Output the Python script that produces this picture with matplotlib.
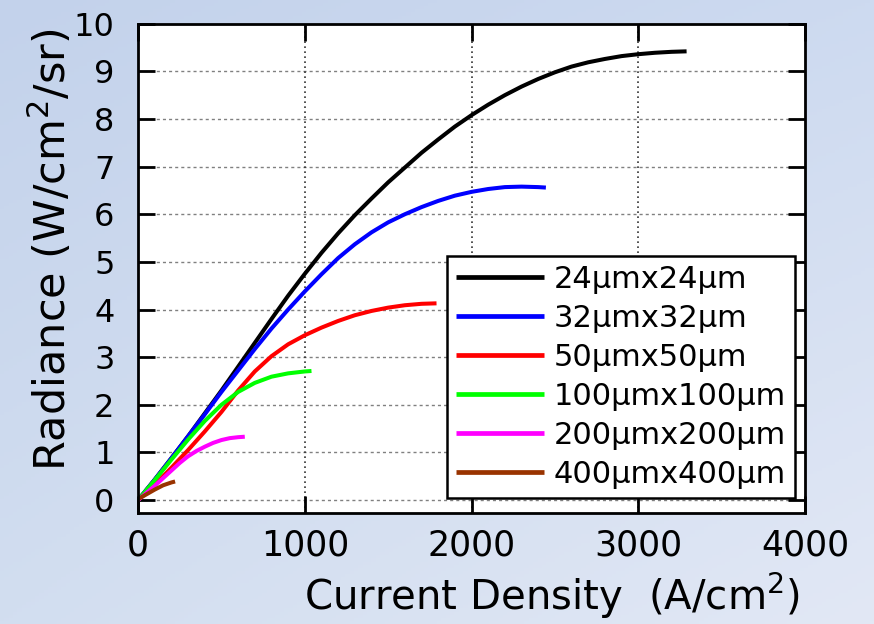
import numpy as np
import matplotlib.pyplot as plt

# Radiance vs current density for different pixel sizes
labels = ["24μmx24μm", "32μmx32μm", "50μmx50μm",
          "100μmx100μm", "200μmx200μm", "400μmx400μm"]
colors = ["#000000", "#0000ff", "#ff0000", "#00ff00", "#ff00ff", "#993300"]

j_24 = [0, 100, 200, 300, 400, 500, 600, 700, 800, 900, 1000, 1100, 1200,
        1300, 1400, 1500, 1600, 1700, 1800, 1900, 2000, 2100, 2200, 2300,
        2400, 2500, 2600, 2700, 2800, 2900, 3000, 3100, 3200, 3290]
r_24 = [0, 0.43, 0.88, 1.34, 1.82, 2.3, 2.8, 3.3, 3.8, 4.29, 4.75, 5.19, 5.6,
        5.98, 6.33, 6.67, 6.98, 7.29, 7.57, 7.84, 8.08, 8.3, 8.5, 8.68,
        8.84, 8.98, 9.1, 9.19, 9.26, 9.32, 9.36, 9.39, 9.41, 9.42]

j_32 = [0, 100, 200, 300, 400, 500, 600, 700, 800, 900, 1000, 1100, 1200,
        1300, 1400, 1500, 1600, 1700, 1800, 1900, 2000, 2100, 2200, 2300,
        2400, 2446]
r_32 = [0, 0.43, 0.88, 1.34, 1.8, 2.27, 2.72, 3.17, 3.6, 4.0, 4.38, 4.74, 5.08,
        5.37, 5.62, 5.83, 6.0, 6.15, 6.28, 6.39, 6.47, 6.53, 6.57, 6.58,
        6.57, 6.56]

j_50 = [0, 100, 200, 300, 400, 500, 600, 700, 800, 900, 1000, 1100, 1200,
        1300, 1400, 1500, 1600, 1700, 1790]
r_50 = [0, 0.32, 0.68, 1.05, 1.44, 1.85, 2.3, 2.7, 3.02, 3.27, 3.46, 3.62, 3.76,
        3.88, 3.97, 4.04, 4.09, 4.12, 4.13]

j_100 = [0, 100, 200, 300, 400, 500, 600, 700, 800, 900, 1000, 1040]
r_100 = [0, 0.42, 0.85, 1.27, 1.66, 2.0, 2.27, 2.46, 2.59, 2.66, 2.7, 2.71]

j_200 = [0, 100, 200, 250, 300, 350, 400, 450, 500, 550, 600, 640]
r_200 = [0, 0.3, 0.62, 0.78, 0.92, 1.03, 1.12, 1.2, 1.26, 1.3, 1.32, 1.33]

j_400 = [0, 50, 100, 150, 200, 222]
r_400 = [0.02, 0.12, 0.22, 0.31, 0.37, 0.39]

series = [(j_24, r_24), (j_32, r_32), (j_50, r_50),
          (j_100, r_100), (j_200, r_200), (j_400, r_400)]

x_ticks = [0, 1000, 2000, 3000, 4000]
y_ticks = list(range(0, 11))

plt.rcParams["font.family"] = "DejaVu Sans"

fig = plt.figure(figsize=(8.74, 6.24), dpi=100)

# light blue slide background (diagonal gradient)
bg = fig.add_axes([0, 0, 1, 1], zorder=-10)
u, v = np.meshgrid(np.linspace(0, 1, 200), np.linspace(0, 1, 200))
tl = np.array([195, 210, 235]) / 255
tr = np.array([205, 218, 240]) / 255
bl = np.array([210, 222, 240]) / 255
br = np.array([226, 232, 245]) / 255
img = ((1 - u) * (1 - v))[..., None] * tl + (u * (1 - v))[..., None] * tr \
    + ((1 - u) * v)[..., None] * bl + (u * v)[..., None] * br
bg.imshow(img, aspect="auto", extent=[0, 1, 0, 1])
bg.axis("off")

ax = fig.add_axes([0.158, 0.178, 0.763, 0.784])
ax.set_facecolor("white")

for (jx, ry), col, lab in zip(series, colors, labels):
    ax.plot(jx, ry, color=col, linewidth=2.9, label=lab,
            solid_capstyle="butt", solid_joinstyle="round")

ax.set_xlim(0, 4000)
ax.set_ylim(-0.27, 10)
ax.set_xticks(x_ticks)
ax.set_yticks(y_ticks)

# grid: dashed grey horizontals, dotted dark verticals
for yv in y_ticks[:-1]:
    ax.axhline(yv, color="#808080", linestyle=(0, (2.2, 2.2)), linewidth=1.0, zorder=0.5)
for xv in x_ticks[1:-1]:
    ax.axvline(xv, color="#333333", linestyle=(0, (1, 2)), linewidth=1.2, zorder=0.5)

ax.tick_params(axis="both", direction="in", length=12, width=2,
               top=True, right=True)
ax.tick_params(axis="x", labelsize=25, pad=11)
ax.tick_params(axis="y", labelsize=23, pad=17)
for s in ax.spines.values():
    s.set_linewidth(2)

ax.set_xlabel("Current Density  (A/cm$^2$)", fontsize=29)
ax.xaxis.set_label_coords(0.62, -0.118)
ax.set_ylabel("Radiance (W/cm$^2$/sr)", fontsize=31)
ax.yaxis.set_label_coords(-0.095, 0.537)

leg = ax.legend(loc="lower right", bbox_to_anchor=(0.985, 0.03),
                borderaxespad=0, fontsize=22, handlelength=2.9,
                handletextpad=0.3, labelspacing=0.33, borderpad=0.3,
                fancybox=False, framealpha=1, edgecolor="black")
leg.get_frame().set_linewidth(1.8)
for line in leg.get_lines():
    line.set_linewidth(3.4)

fig.savefig("out.png", dpi=100)
